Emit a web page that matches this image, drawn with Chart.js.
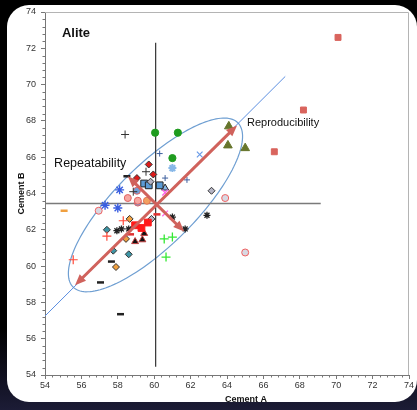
<!DOCTYPE html>
<html>
<head>
<meta charset="utf-8">
<script src="https://cdn.jsdelivr.net/npm/chart.js@4.4.0/dist/chart.umd.min.js"></script>
<style>
  html, body { margin: 0; padding: 0; }
  body {
    width: 417px; height: 410px; overflow: hidden; position: relative;
    background: linear-gradient(to bottom, #000 0%, #000 80%, #1c1c36 100%);
  }
  #panel { position: absolute; left: 7px; top: 5px; width: 410px; height: 397px; background: #fff; border-radius: 22px; }
  #wrap { position: absolute; left: 0; top: 0; width: 417px; height: 410px; }
</style>
</head>
<body>
<div id="panel"></div>
<div id="wrap"><canvas id="aliteChart" width="417" height="410"></canvas></div>
<script>
// Alite content, Cement A vs Cement B, one array per lab marker
const salmonSquares = [[70.1, 72.6], [68.2, 68.6], [66.6, 66.3]];
const oliveTriangles = [[64.1, 67.7], [64.05, 66.65], [65.0, 66.5]];
const greenDots = [[60.05, 67.35], [61.3, 67.35], [61.0, 65.95]];
const blackPlus = [[58.4, 67.25], [59.55, 65.2], [58.85, 64.1]];
const navyPlus = [[60.3, 66.2], [60.6, 64.85], [61.8, 64.75]];
const lightBlueX = [[62.5, 66.15]];
const blueStars = [[58.1, 64.2], [57.3, 63.35], [58.0, 63.2]];
const paleBlueStar = [[61.0, 65.4]];
const blackStars = [[57.95, 61.95], [58.2, 62.05], [58.6, 62.05], [61.0, 62.7], [62.9, 62.8], [61.7, 62.05]];
const blackDashes = [[57.65, 60.25], [57.05, 59.1], [58.15, 57.35], [58.5, 64.95]];
const redDashes = [[58.7, 61.75], [60.15, 62.85]];
const orangeDash = [[55.05, 63.05]];
const redPlus = [[58.3, 62.5], [57.4, 61.65], [55.55, 60.35]];
const pinkX = [[60.6, 64.05], [60.6, 62.9]];
const greenPlus = [[60.55, 61.5], [61.0, 61.6], [60.65, 60.5]];
const redSquares = [[58.95, 62.25], [59.3, 62.1], [59.65, 62.4]];
const blackTriangles = [[58.95, 61.35], [59.35, 61.45], [59.45, 61.8]];
const orangeDiamonds = [[58.65, 62.6], [58.45, 61.5], [57.9, 59.95]];
const tealDiamonds = [[57.4, 62.0], [57.75, 60.85], [58.6, 60.65]];
const grayDiamonds = [[59.85, 62.6], [63.15, 64.15], [59.8, 64.65]];
const redDiamonds = [[59.7, 65.6], [59.95, 65.05], [59.05, 64.85]];
const blueSquares = [[59.45, 64.55], [59.7, 64.45], [60.3, 64.45]];
const blueTriangle = [[60.6, 64.3]];
const pinkDots = [[58.55, 63.75], [59.1, 63.6]];
const blueDots = [[59.05, 64.15], [59.1, 63.5]];
const orangeDot = [[59.6, 63.6]];
const openDots = [[63.9, 63.75], [65.0, 60.75], [56.95, 63.05]];

// reference lines and shapes, data units
const meanA = [[60.08, 72.3], [60.08, 54.45]];
const meanB = [[54, 63.45], [69.15, 63.45]];
const fitLine = [[54, 57.25], [67.2, 70.45]];
const reproArrow = [[55.65, 58.95], [64.55, 67.75]];
const repeatArrow = [[58.55, 64.95], [61.65, 61.9]];
const ellipse = { cx: 60.07, cy: 63.37, a: 6.4, b: 2.2, angle: 45 };

const axisTicks = [54, 56, 58, 60, 62, 64, 66, 68, 70, 72, 74];

const FONT = "'Liberation Sans', Arial, sans-serif";
const pts = (arr) => arr.map(([x, y]) => ({ x, y }));

function marks(data, style, fill, border, radius, width) {
  return {
    type: 'scatter', data: pts(data), pointStyle: style,
    backgroundColor: fill, borderColor: border,
    pointRadius: radius, borderWidth: width, order: 0
  };
}

function guide(data, color, width) {
  return {
    type: 'line', data: pts(data), borderColor: color, borderWidth: width,
    pointRadius: 0, fill: false, tension: 0, order: 5
  };
}

const annotate = {
  id: 'annotate',
  beforeDatasetsDraw(chart) {
    const { ctx, chartArea: a, scales: { x, y } } = chart;
    ctx.save();
    // frame top/right
    ctx.strokeStyle = '#b4b4b4';
    ctx.lineWidth = 1;
    ctx.beginPath();
    ctx.moveTo(a.left, a.top + 0.5);
    ctx.lineTo(a.right - 0.5, a.top + 0.5);
    ctx.lineTo(a.right - 0.5, a.bottom);
    ctx.stroke();
    // ellipse
    const rot = ellipse.angle * Math.PI / 180;
    ctx.strokeStyle = '#6f9fd2';
    ctx.lineWidth = 1.2;
    ctx.beginPath();
    for (let i = 0; i <= 160; i++) {
      const t = i / 160 * Math.PI * 2;
      const du = ellipse.a * Math.cos(t), dv = ellipse.b * Math.sin(t);
      const px = x.getPixelForValue(ellipse.cx + du * Math.cos(rot) - dv * Math.sin(rot));
      const py = y.getPixelForValue(ellipse.cy + du * Math.sin(rot) + dv * Math.cos(rot));
      if (i) ctx.lineTo(px, py); else ctx.moveTo(px, py);
    }
    ctx.stroke();
    ctx.restore();
  },
  afterDatasetsDraw(chart) {
    const { ctx, chartArea: a, scales: { x, y } } = chart;
    ctx.save();
    // double headed arrows
    [reproArrow, repeatArrow].forEach(([p, q]) => {
      const x1 = x.getPixelForValue(p[0]), y1 = y.getPixelForValue(p[1]);
      const x2 = x.getPixelForValue(q[0]), y2 = y.getPixelForValue(q[1]);
      const ang = Math.atan2(y2 - y1, x2 - x1);
      const head = 11, half = 4.5;
      ctx.strokeStyle = '#d0625c';
      ctx.fillStyle = '#d0625c';
      ctx.lineWidth = 3;
      ctx.beginPath();
      ctx.moveTo(x1 + Math.cos(ang) * head * 0.8, y1 + Math.sin(ang) * head * 0.8);
      ctx.lineTo(x2 - Math.cos(ang) * head * 0.8, y2 - Math.sin(ang) * head * 0.8);
      ctx.stroke();
      [[x2, y2, ang], [x1, y1, ang + Math.PI]].forEach(([tx, ty, d]) => {
        const bx = tx - Math.cos(d) * head, by = ty - Math.sin(d) * head;
        ctx.beginPath();
        ctx.moveTo(tx, ty);
        ctx.lineTo(bx + Math.sin(d) * half, by - Math.cos(d) * half);
        ctx.lineTo(bx - Math.sin(d) * half, by + Math.cos(d) * half);
        ctx.closePath();
        ctx.fill();
      });
    });
    // labels
    ctx.fillStyle = '#111';
    ctx.textBaseline = 'middle';
    ctx.font = 'bold 13px ' + FONT;
    ctx.fillText('Alite', x.getPixelForValue(54.93), y.getPixelForValue(72.84));
    ctx.font = '12.5px ' + FONT;
    ctx.fillText('Repeatability', x.getPixelForValue(54.5), y.getPixelForValue(65.63));
    ctx.font = '11px ' + FONT;
    ctx.fillText('Reproducibility', x.getPixelForValue(65.1), y.getPixelForValue(67.88));
    ctx.restore();
  },
  afterDraw(chart) {
    const { ctx, chartArea: a, scales: { x, y } } = chart;
    ctx.save();
    // minor ticks
    ctx.strokeStyle = '#777';
    ctx.lineWidth = 1;
    ctx.beginPath();
    for (let i = 0; i <= 50; i++) {
      if (i % 5 === 0) continue;
      const v = 54 + i * 0.4;
      const px = Math.round(x.getPixelForValue(v)) + 0.5;
      const py = Math.round(y.getPixelForValue(v)) + 0.5;
      ctx.moveTo(px, a.bottom); ctx.lineTo(px, a.bottom + 2.5);
      ctx.moveTo(a.left - 2.5, py); ctx.lineTo(a.left, py);
    }
    ctx.stroke();
    // x title (offset like the original)
    ctx.fillStyle = '#111';
    ctx.font = 'bold 9px ' + FONT;
    ctx.textAlign = 'center';
    ctx.textBaseline = 'middle';
    ctx.fillText('Cement A', (a.left + a.right) / 2 + 19, a.bottom + 25);
    ctx.restore();
  }
};

const tickStyle = { font: { family: FONT, size: 9 }, color: '#333' };

new Chart(document.getElementById('aliteChart'), {
  type: 'scatter',
  data: {
    datasets: [
      marks(salmonSquares, 'rect', '#d9645d', '#d9645d', 4.2, 1),
      marks(oliveTriangles, 'triangle', '#66752c', '#66752c', 5, 1),
      marks(greenDots, 'circle', '#1f9c1f', '#1f9c1f', 3.6, 1),
      marks(blackPlus, 'cross', '#333', '#333', 4, 1),
      marks(navyPlus, 'cross', '#3d5f9e', '#3d5f9e', 3, 1),
      marks(lightBlueX, 'crossRot', '#6a9be8', '#6a9be8', 4, 1.2),
      marks(blueStars, 'star', '#3a5ee0', '#3a5ee0', 4.5, 1.4),
      marks(paleBlueStar, 'star', '#88b8e8', '#88b8e8', 4, 2),
      marks(blackStars, 'star', '#222', '#222', 3.5, 1.3),
      marks(blackDashes, 'line', '#222', '#222', 3.5, 2.5),
      marks(redDashes, 'line', '#e03030', '#e03030', 3.5, 2.5),
      marks(orangeDash, 'line', '#f0a040', '#f0a040', 3.5, 2.5),
      marks(redPlus, 'cross', '#ff4a3a', '#ff4a3a', 4.5, 1.2),
      marks(pinkX, 'crossRot', '#ff66ee', '#ff66ee', 4, 1.3),
      marks(greenPlus, 'cross', '#33e833', '#33e833', 4.5, 1.3),
      marks(redSquares, 'rect', '#ff1a1a', '#ff1a1a', 4.8, 1),
      marks(blackTriangles, 'triangle', '#111', '#c04040', 4, 1),
      marks(orangeDiamonds, 'rectRot', '#f0a040', '#333', 3.5, 1),
      marks(tealDiamonds, 'rectRot', '#3d95a5', '#333', 3.5, 1),
      marks(grayDiamonds, 'rectRot', '#b4b4c4', '#333', 3.5, 1),
      marks(redDiamonds, 'rectRot', '#dd1a1a', '#333', 3.5, 1),
      marks(blueSquares, 'rect', '#5b9bd5', '#222', 4.8, 1),
      marks(blueTriangle, 'triangle', '#8ab8e8', '#222', 4, 1),
      marks(pinkDots, 'circle', '#f6a6a0', '#e06060', 3.5, 1),
      marks(blueDots, 'circle', '#70a0d8', '#e06060', 3.5, 1),
      marks(orangeDot, 'circle', '#f2a060', '#e07050', 3.5, 1),
      marks(openDots, 'circle', '#d8d8e2', '#f06060', 3.5, 1),
      guide(meanA, '#333', 1.2),
      guide(meanB, '#7a7a7a', 1.5),
      guide(fitLine, '#5b8ee0', 1)
    ]
  },
  options: {
    responsive: false,
    animation: false,
    layout: { padding: { top: 12, right: 8, bottom: 0, left: 0 } },
    plugins: { legend: { display: false }, tooltip: { enabled: false } },
    scales: {
      x: {
        type: 'linear', min: 54, max: 74,
        afterBuildTicks: (s) => { s.ticks = axisTicks.map((v) => ({ value: v })); },
        ticks: { ...tickStyle, padding: 1, maxRotation: 0 },
        grid: { drawOnChartArea: false, tickLength: 4, color: '#777' },
        border: { color: '#777', width: 1 },
        afterFit: (s) => { s.height = 35; }
      },
      y: {
        type: 'linear', min: 54, max: 74,
        afterBuildTicks: (s) => { s.ticks = axisTicks.map((v) => ({ value: v })); },
        ticks: { ...tickStyle, padding: 5 },
        grid: { drawOnChartArea: false, tickLength: 4, color: '#777' },
        border: { color: '#777', width: 1 },
        title: {
          display: true, text: 'Cement B', color: '#111',
          font: { family: FONT, size: 9, weight: 'bold' },
          padding: { top: 16.5, bottom: 0 }
        },
        afterFit: (s) => { s.width = 45; }
      }
    }
  },
  plugins: [annotate]
});
</script>
</body>
</html>
